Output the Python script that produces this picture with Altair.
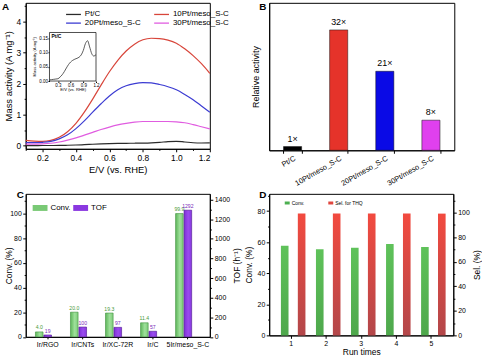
import altair as alt
import pandas as pd

FONT = "Liberation Sans"

# ---------------- Panel A data ----------------
potential = [0.10, 0.15, 0.20, 0.25, 0.30, 0.35, 0.40, 0.45, 0.50, 0.55, 0.60, 0.65,
             0.70, 0.75, 0.80, 0.85, 0.90, 0.95, 1.00, 1.05, 1.10, 1.15, 1.20]
ma_pt_c = [0.004, 0.005, 0.006, 0.007, 0.008, 0.014, 0.022, 0.033, 0.046, 0.058, 0.067, 0.073,
           0.077, 0.080, 0.084, 0.092, 0.108, 0.132, 0.142, 0.120, 0.096, 0.088, 0.093]
ma_10pt = [0.17, 0.15, 0.14, 0.17, 0.27, 0.45, 0.72, 1.08, 1.50, 1.95, 2.38, 2.75,
           3.05, 3.27, 3.41, 3.46, 3.45, 3.40, 3.30, 3.12, 2.90, 2.64, 2.33]
ma_20pt = [0.10, 0.10, 0.11, 0.14, 0.22, 0.35, 0.55, 0.80, 1.08, 1.35, 1.60, 1.80,
           1.93, 2.00, 2.03, 2.02, 1.97, 1.90, 1.80, 1.65, 1.48, 1.28, 1.08]
ma_30pt = [0.05, 0.05, 0.06, 0.08, 0.12, 0.18, 0.25, 0.34, 0.43, 0.52, 0.60, 0.67,
           0.72, 0.76, 0.78, 0.78, 0.78, 0.78, 0.77, 0.74, 0.68, 0.61, 0.54]
series_a = ["Pt/C", "10Pt/meso_S-C", "20Pt/meso_S-C", "30Pt/meso_S-C"]
colors_a = ["#2a2a2a", "#d8453a", "#3b3bd2", "#e05ce0"]
a_x_ticks = [0.2, 0.4, 0.6, 0.8, 1.0, 1.2]
a_x_minor = [0.1, 0.3, 0.5, 0.7, 0.9, 1.1]
a_y_ticks = [0, 1, 2, 3, 4]
a_y_minor = [0.5, 1.5, 2.5, 3.5, 4.5]
inset_x_ticks = [0.3, 0.6, 0.9, 1.2]
inset_y_ticks = [0.0, 0.05, 0.10, 0.15]
inset_box_e = [0.1, 1.2]
inset_box_ma = [0.0, 0.171]
inset_label = ["Pt/C"]

# ---------------- Panel B data ----------------
catalysts_b = ["Pt/C", "10Pt/meso_S-C", "20Pt/meso_S-C", "30Pt/meso_S-C"]
relative_b = [1, 32, 21, 8]
labels_b = ["1×", "32×", "21×", "8×"]
colors_b = ["#000000", "#e5332a", "#0a0ae6", "#e040ee"]

# ---------------- Panel C data ----------------
catalysts_c = ["Ir/RGO", "Ir/CNTs", "Ir/XC-72R", "Ir/C", "5Ir/meso_S-C"]
conv_c = [4.0, 20.0, 19.3, 11.4, 99.9]
tof_c = [19, 100, 97, 57, 1292]
series_c = ["Conv.", "TOF"]
c_left_ticks = [0, 20, 40, 60, 80, 100]
c_left_minor = [10, 30, 50, 70, 90, 110]
c_right_ticks = [0, 200, 400, 600, 800, 1000, 1200, 1400]
c_right_minor = [100, 300, 500, 700, 900, 1100, 1300]

# ---------------- Panel D data ----------------
runs_d = ["1", "2", "3", "4", "5"]
conv_d = [57.7, 55.4, 56.4, 58.8, 56.9]
sel_d = [99.2, 99.2, 99.2, 99.2, 99.2]
series_d = ["Conv.", "Sel. for THQ"]
d_left_ticks = [0, 20, 40, 60, 80]
d_left_minor = [10, 30, 50, 70, 90]
d_right_ticks = [0, 20, 40, 60, 80, 100]
d_right_minor = [10, 30, 50, 70, 90, 110]

# ---------------- layout constants ----------------
WA, HA = 186, 147.5
WB, HB = 187, 149
WC, HC = 186, 144.5
WD, HD = 186, 143
INSET_L, INSET_W = 24, 47          # inset frame left / width inside panel A (px)
INSET_B, INSET_PPU = 79, 286.67    # inset y=0 position from top, px per unit


def panel_title(letter, dx, dy):
    return alt.TitleParams(letter, anchor="start", frame="group", dx=dx, dy=dy, offset=0,
                           baseline="top", fontSize=10, fontWeight="bold", font=FONT,
                           color="black")


def minor_axis(orient, values):
    return alt.Axis(orient=orient, values=values, labels=False, tickSize=1.6, domain=False,
                    title=None, grid=False)


# ================= Panel A =================
rows = []
for name, vals in zip(series_a, [ma_pt_c, ma_10pt, ma_20pt, ma_30pt]):
    for e, v in zip(potential, vals):
        rows.append({"E": e, "MA": v, "Catalyst": name})
df_a = pd.DataFrame(rows)

xa_scale = alt.Scale(domain=[0.1, 1.2], nice=False, zero=False)
ya_scale = alt.Scale(domain=[-0.1, 4.6], nice=False, zero=False)

lines_a = alt.Chart(df_a).mark_line(strokeWidth=1.2, interpolate="monotone").encode(
    x=alt.X("E:Q", scale=xa_scale,
            axis=alt.Axis(orient="bottom", values=a_x_ticks, format=".1f",
                          title="E/V (vs. RHE)", labelFontSize=8.5, titleFontSize=9.5,
                          tickSize=3, labelPadding=2, titlePadding=2)),
    y=alt.Y("MA:Q", scale=ya_scale,
            axis=alt.Axis(orient="left", values=a_y_ticks, title="Mass activity (A mg⁻¹)",
                          labelFontSize=8.5, titleFontSize=9.5, tickSize=3,
                          labelPadding=2, titleX=-12)),
    color=alt.Color("Catalyst:N", sort=series_a,
                    scale=alt.Scale(domain=series_a, range=colors_a),
                    legend=alt.Legend(title=None, orient="none", legendX=43.75, legendY=7,
                                      columns=2, direction="horizontal",
                                      symbolType="M-2,0H2", symbolSize=56,
                                      symbolStrokeWidth=1.3, labelFontSize=8,
                                      labelOffset=7, rowPadding=0, columnPadding=10,
                                      padding=0)),
)
minor_a = alt.Chart(df_a).mark_point(opacity=0).encode(
    x=alt.X("E:Q", scale=xa_scale, axis=minor_axis("bottom", a_x_minor)),
    y=alt.Y("MA:Q", scale=ya_scale, axis=minor_axis("left", a_y_minor)))
main_a = alt.layer(lines_a, minor_a).resolve_axis(x="independent", y="independent")

xi_dom = [inset_box_e[0] - INSET_L * (inset_box_e[1] - inset_box_e[0]) / INSET_W,
          inset_box_e[0] + (WA - INSET_L) * (inset_box_e[1] - inset_box_e[0]) / INSET_W]
yi_dom = [-(HA - INSET_B) / INSET_PPU, INSET_B / INSET_PPU]
xi_scale = alt.Scale(domain=xi_dom, nice=False, zero=False)
yi_scale = alt.Scale(domain=yi_dom, nice=False, zero=False)

xi_axis = alt.Axis(orient="bottom", offset=-(HA - INSET_B), values=inset_x_ticks,
                   format=".1f", title="E/V (vs. RHE)", labelFontSize=4.5,
                   titleFontSize=4.2, tickSize=1.5, labelPadding=0.5, titlePadding=0.5,
                   domain=False, titleX=INSET_L + INSET_W / 2)
yi_axis = alt.Axis(orient="left", offset=-INSET_L, values=inset_y_ticks,
                   format=".2f", title="Mass activity (A mg⁻¹)", labelFontSize=4.5,
                   titleFontSize=4.2, tickSize=1.5, labelPadding=0.5, domain=False,
                   titleX=-13, titleY=INSET_B - 25)
xi = alt.X("E:Q", scale=xi_scale, axis=xi_axis)
yi = alt.Y("MA:Q", scale=yi_scale, axis=yi_axis)

df_box = pd.DataFrame({"E": [inset_box_e[0]], "E2": [inset_box_e[1]],
                       "MA": [inset_box_ma[0]], "MA2": [inset_box_ma[1]],
                       "Label": inset_label})
box = alt.Chart(df_box).mark_rect(fill="white", stroke="black", strokeWidth=0.7).encode(
    x=xi, x2="E2:Q", y=yi, y2="MA2:Q")
box_text = alt.Chart(df_box).mark_text(align="left", baseline="top", dx=2, dy=2,
                                       fontSize=5, fontWeight="bold", color="black").encode(
    x=xi, y=alt.Y("MA2:Q", scale=yi_scale, axis=yi_axis), text="Label:N")
inset_line = alt.Chart(pd.DataFrame({"E": potential, "MA": ma_pt_c})).mark_line(
    color="#333333", strokeWidth=0.8, interpolate="monotone").encode(x=xi, y=yi)

inset = alt.layer(box, box_text, inset_line)
panel_a = alt.layer(main_a, inset).resolve_scale(x="independent", y="independent").properties(
    width=WA, height=HA, title=panel_title("A", -24, 9.5))

# ================= Panel B =================
df_b = pd.DataFrame({"Catalyst": catalysts_b, "Relative": relative_b, "Label": labels_b})
x_b = alt.X("Catalyst:N", sort=catalysts_b,
            scale=alt.Scale(paddingInner=0.607, paddingOuter=0.31),
            axis=alt.Axis(title=None, labelAngle=-30, labelAlign="right", labelBaseline="top",
                          labelFontSize=7.5, tickBand="extent", tickSize=3, labelPadding=1))
y_b = alt.Y("Relative:Q", scale=alt.Scale(domain=[0, 39.2], nice=False),
            axis=alt.Axis(title="Relative activity", labels=False, ticks=False,
                          titleFontSize=9, titlePadding=9))
bars_b = alt.Chart(df_b).mark_bar(stroke="#111111", strokeWidth=0.5).encode(
    x=x_b, y=y_b,
    color=alt.Color("Catalyst:N", scale=alt.Scale(domain=catalysts_b, range=colors_b),
                    legend=None))
text_b = alt.Chart(df_b).mark_text(baseline="bottom", dy=-3, fontSize=9, color="black").encode(
    x=x_b, y=y_b, text="Label:N")
panel_b = alt.layer(bars_b, text_b).properties(width=WB, height=HB,
                                                title=panel_title("B", -10, 9.5))

# ================= Panel C =================
green_c = alt.LinearGradient(gradient="linear", x1=0, x2=1, y1=0, y2=0, stops=[
    alt.GradientStop(color="#5db65a", offset=0),
    alt.GradientStop(color="#9fe09b", offset=0.55),
    alt.GradientStop(color="#7ccb78", offset=1)])
purple_c = alt.LinearGradient(gradient="linear", x1=0, x2=1, y1=0, y2=0, stops=[
    alt.GradientStop(color="#7d2fd6", offset=0),
    alt.GradientStop(color="#9a4cee", offset=0.55),
    alt.GradientStop(color="#8638df", offset=1)])

df_c_conv = pd.DataFrame({"Catalyst": catalysts_c, "Series": "Conv.", "Value": conv_c})
df_c_tof = pd.DataFrame({"Catalyst": catalysts_c, "Series": "TOF", "Value": tof_c})

x_c = alt.X("Catalyst:N", sort=catalysts_c,
            scale=alt.Scale(paddingInner=0.30, paddingOuter=0.277),
            axis=alt.Axis(title=None, labelAngle=0, labelFontSize=7, tickSize=2,
                          labelPadding=2))
xo_c = alt.XOffset("Series:N", scale=alt.Scale(domain=series_c, paddingInner=0.1))
yc_l_scale = alt.Scale(domain=[0, 115.9], nice=False)
yc_r_scale = alt.Scale(domain=[0, 1458.6], nice=False)
y_c_left = alt.Y("Value:Q", scale=yc_l_scale,
                 axis=alt.Axis(orient="left", values=c_left_ticks, title="Conv. (%)",
                               labelFontSize=7, titleFontSize=8.5, tickSize=3,
                               labelPadding=1.5, titleX=-12))
y_c_left_plain = alt.Y("Value:Q", scale=yc_l_scale, axis=None)
y_c_right = alt.Y("Value:Q", scale=yc_r_scale,
                  axis=alt.Axis(orient="right", values=c_right_ticks, format="d",
                                title="TOF (h⁻¹)", labelFontSize=7, titleFontSize=8.5,
                                tickSize=3, labelPadding=1.5, titleAngle=270,
                                titleBaseline="top", titlePadding=3))
y_c_right_plain = alt.Y("Value:Q", scale=yc_r_scale, axis=None)

conv_bars = alt.Chart(df_c_conv).mark_bar(fill=green_c, stroke="#3f8f3c", strokeWidth=0.6).encode(
    x=x_c, xOffset=xo_c, y=y_c_left)
conv_text = alt.Chart(df_c_conv).mark_text(baseline="bottom", dy=-1.5, fontSize=5.2,
                                           color="#4a9a3a").encode(
    x=x_c, xOffset=xo_c, y=y_c_left_plain, text=alt.Text("Value:Q", format=".1f"))
legend_c = alt.Chart(df_c_conv).mark_bar(opacity=0).encode(
    x=x_c, xOffset=xo_c, y=y_c_left_plain,
    color=alt.Color("Series:N", scale=alt.Scale(domain=series_c, range=["#79c975", "#8a38e0"]),
                    legend=alt.Legend(title=None, orient="none", legendX=7, legendY=6.5,
                                      direction="horizontal", symbolType="M-1,-0.4H1V0.4H-1Z",
                                      symbolSize=225, symbolOpacity=1, labelFontSize=8,
                                      labelOffset=3, columnPadding=2, padding=0,
                                      symbolStrokeWidth=0)))
conv_minor = alt.Chart(df_c_conv).mark_point(opacity=0).encode(
    x=x_c, y=alt.Y("Value:Q", scale=yc_l_scale, axis=minor_axis("left", c_left_minor)))
tof_bars = alt.Chart(df_c_tof).mark_bar(fill=purple_c, stroke="#4d1690", strokeWidth=0.6).encode(
    x=x_c, xOffset=xo_c, y=y_c_right)
tof_text = alt.Chart(df_c_tof).mark_text(baseline="bottom", dy=-1.5, fontSize=5.2,
                                         color="#7a2ab8").encode(
    x=x_c, xOffset=xo_c, y=y_c_right_plain, text=alt.Text("Value:Q", format="d"))
tof_minor = alt.Chart(df_c_tof).mark_point(opacity=0).encode(
    x=x_c, y=alt.Y("Value:Q", scale=yc_r_scale, axis=minor_axis("right", c_right_minor)))

conv_group = alt.layer(conv_bars, conv_text, legend_c, conv_minor).resolve_axis(y="independent")
tof_group = alt.layer(tof_bars, tof_text, tof_minor).resolve_axis(y="independent")
panel_c = alt.layer(conv_group, tof_group).resolve_scale(y="independent").properties(
    width=WC, height=HC, title=panel_title("C", -9, 6.5))

# ================= Panel D =================
green_d = alt.LinearGradient(gradient="linear", x1=0, x2=0, y1=0, y2=1, stops=[
    alt.GradientStop(color="#5fc25a", offset=0),
    alt.GradientStop(color="#4ea84c", offset=1)])
red_d = alt.LinearGradient(gradient="linear", x1=0, x2=0, y1=0, y2=1, stops=[
    alt.GradientStop(color="#f24a3f", offset=0),
    alt.GradientStop(color="#b3474a", offset=1)])

df_d_conv = pd.DataFrame({"Run": runs_d, "Series": "Conv.", "Value": conv_d})
df_d_sel = pd.DataFrame({"Run": runs_d, "Series": "Sel. for THQ", "Value": sel_d})

x_d = alt.X("Run:N", sort=runs_d, scale=alt.Scale(paddingInner=0.415, paddingOuter=0.334),
            axis=alt.Axis(title="Run times", labelAngle=0, labelFontSize=7, titleFontSize=8.5,
                          tickSize=3, labelPadding=1, titlePadding=1))
xo_d = alt.XOffset("Series:N", scale=alt.Scale(domain=series_d, paddingInner=0))
yd_l_scale = alt.Scale(domain=[0, 91.1], nice=False)
yd_r_scale = alt.Scale(domain=[0, 115.3], nice=False)
y_d_left = alt.Y("Value:Q", scale=yd_l_scale,
                 axis=alt.Axis(orient="left", values=d_left_ticks, title="Conv. (%)",
                               labelFontSize=7, titleFontSize=8.5, tickSize=3,
                               labelPadding=1.5))
y_d_right = alt.Y("Value:Q", scale=yd_r_scale,
                  axis=alt.Axis(orient="right", values=d_right_ticks, title="Sel. (%)",
                                labelFontSize=7, titleFontSize=8.5, tickSize=3,
                                labelPadding=1.5, titleAngle=270, titleBaseline="top",
                                titlePadding=3))

conv_d_bars = alt.Chart(df_d_conv).mark_bar(fill=green_d).encode(x=x_d, xOffset=xo_d, y=y_d_left)
legend_d = alt.Chart(df_d_conv).mark_bar(opacity=0).encode(
    x=x_d, xOffset=xo_d, y=alt.Y("Value:Q", scale=yd_l_scale, axis=None),
    color=alt.Color("Series:N", scale=alt.Scale(domain=series_d, range=["#4caf50", "#e0463e"]),
                    legend=alt.Legend(title=None, orient="none", legendX=15.7, legendY=6.5,
                                      direction="horizontal", symbolType="M-1,-0.6H1V0.6H-1Z",
                                      symbolSize=25, symbolOpacity=1, labelFontSize=5,
                                      labelOffset=2, columnPadding=24, padding=0,
                                      symbolStrokeWidth=0)))
conv_d_minor = alt.Chart(df_d_conv).mark_point(opacity=0).encode(
    x=x_d, y=alt.Y("Value:Q", scale=yd_l_scale, axis=minor_axis("left", d_left_minor)))
sel_d_bars = alt.Chart(df_d_sel).mark_bar(fill=red_d).encode(x=x_d, xOffset=xo_d, y=y_d_right)
sel_d_minor = alt.Chart(df_d_sel).mark_point(opacity=0).encode(
    x=x_d, y=alt.Y("Value:Q", scale=yd_r_scale, axis=minor_axis("right", d_right_minor)))

conv_d_group = alt.layer(conv_d_bars, legend_d, conv_d_minor).resolve_axis(y="independent")
sel_d_group = alt.layer(sel_d_bars, sel_d_minor).resolve_axis(y="independent")
panel_d = alt.layer(conv_d_group, sel_d_group).resolve_scale(y="independent").properties(
    width=WD, height=HD, title=panel_title("D", -10, 6.5))

# ================= assemble =================
chart = alt.concat(panel_a, panel_b, panel_c, panel_d, columns=2,
                   spacing={"row": 44, "column": 60}, bounds="flush").resolve_scale(
    color="independent").properties(
    padding={"left": 1, "top": 0, "right": 0, "bottom": 0}
).configure(font=FONT).configure_view(stroke="black", strokeWidth=1).configure_axis(
    grid=False, domainColor="black", tickColor="black", labelColor="black",
    titleColor="black", titleFontWeight="normal", labelFont=FONT, titleFont=FONT,
    domainWidth=1, tickWidth=1
).configure_legend(labelFont=FONT, labelColor="black")

chart.save("out.html", embed_options={"renderer": "svg", "actions": False})
